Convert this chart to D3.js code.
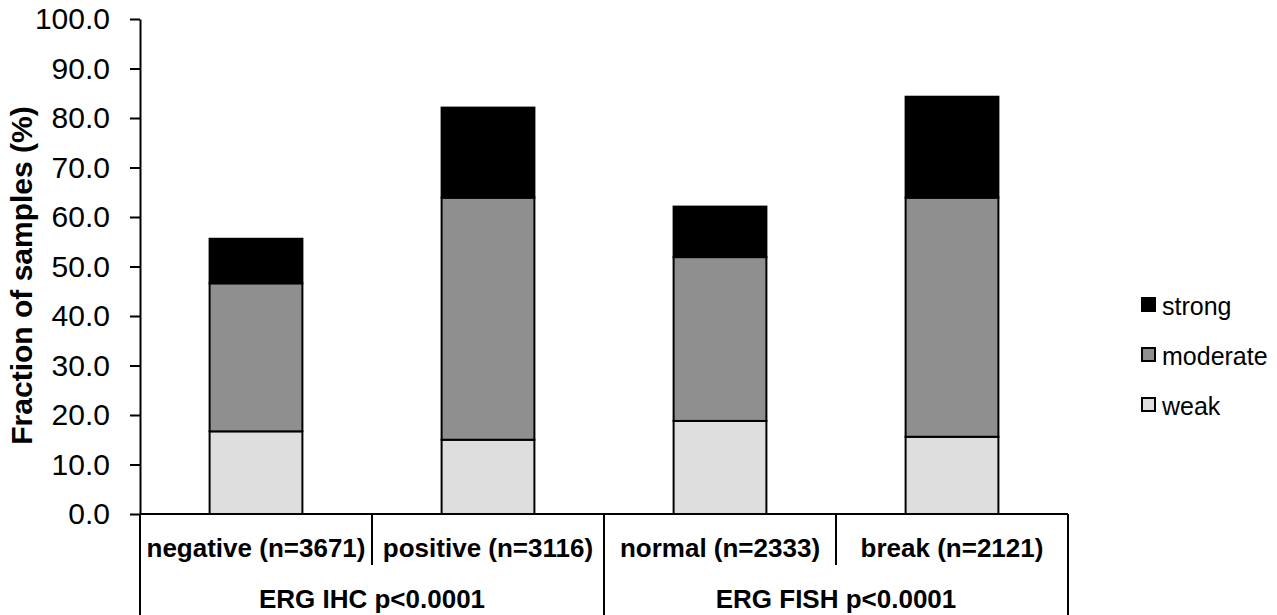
<!DOCTYPE html>
<html>
<head>
<meta charset="utf-8">
<script src="https://cdn.jsdelivr.net/npm/d3@7"></script>
<style>
  body { margin: 0; background: #fff; }
  svg { display: block; font-family: "Liberation Sans", Arial, sans-serif; }
</style>
</head>
<body>
<script>
const categories = ['negative (n=3671)', 'positive (n=3116)', 'normal (n=2333)', 'break (n=2121)'];
const groups = ['ERG IHC p<0.0001', 'ERG FISH p<0.0001'];
const keys = ['weak', 'moderate', 'strong'];
const weak = [16.7, 15.0, 18.8, 15.6];
const moderate = [29.9, 48.9, 33.1, 48.3];
const strong = [9.0, 18.2, 10.2, 20.4];
const yTicks = [0, 10, 20, 30, 40, 50, 60, 70, 80, 90, 100];

const width = 1277, height = 615;
const plotLeft = 140, plotRight = 1068, plotTop = 19, plotBottom = 514;

const colors = { weak: '#dedede', moderate: '#8f8f8f', strong: '#000000' };

const rows = categories.map((c, i) => ({ cat: c, weak: weak[i], moderate: moderate[i], strong: strong[i] }));

const svg = d3.select('body').append('svg')
  .attr('width', width)
  .attr('height', height);

const x = d3.scaleBand().domain(categories).range([plotLeft, plotRight]).padding(0);
const y = d3.scaleLinear().domain([0, 100]).range([plotBottom, plotTop]);
const barW = x.bandwidth() * 0.4;

// y axis
const yAxis = svg.append('g')
  .attr('transform', `translate(${plotLeft},0)`)
  .call(d3.axisLeft(y).tickValues(yTicks).tickFormat(d3.format('.1f')).tickSize(10).tickSizeOuter(0).tickPadding(20));
yAxis.selectAll('path, line').attr('stroke', '#000').attr('stroke-width', 2);
yAxis.selectAll('text').attr('font-size', 30).attr('fill', '#000').attr('font-family', '"Liberation Sans", Arial, sans-serif');

svg.append('text')
  .attr('transform', `translate(32,${(plotTop + plotBottom) / 2 + 9}) rotate(-90)`)
  .attr('text-anchor', 'middle')
  .attr('font-size', 30)
  .attr('font-weight', 'bold')
  .text('Fraction of samples (%)');

// stacked bars
const series = d3.stack().keys(keys)(rows);
svg.append('g')
  .selectAll('g')
  .data(series)
  .join('g')
  .attr('fill', d => colors[d.key])
  .selectAll('rect')
  .data(d => d)
  .join('rect')
  .attr('x', d => x(d.data.cat) + (x.bandwidth() - barW) / 2)
  .attr('y', d => y(d[1]))
  .attr('width', barW)
  .attr('height', d => y(d[0]) - y(d[1]))
  .attr('stroke', '#000')
  .attr('stroke-width', 2);

// category axis
const axisG = svg.append('g');
axisG.append('line')
  .attr('x1', plotLeft).attr('x2', plotRight)
  .attr('y1', plotBottom).attr('y2', plotBottom)
  .attr('stroke', '#000').attr('stroke-width', 2);

const seps = categories.map(c => x(c)).concat([plotRight]);
axisG.selectAll('.sep')
  .data(seps)
  .join('line')
  .attr('class', 'sep')
  .attr('x1', d => d).attr('x2', d => d)
  .attr('y1', plotBottom)
  .attr('y2', (d, i) => i % 2 === 0 ? height : 565)
  .attr('stroke', '#000').attr('stroke-width', 2);

axisG.selectAll('.cat')
  .data(categories)
  .join('text')
  .attr('class', 'cat')
  .attr('x', d => x(d) + x.bandwidth() / 2)
  .attr('y', 557)
  .attr('text-anchor', 'middle')
  .attr('font-size', 26)
  .attr('font-weight', 'bold')
  .text(d => d);

axisG.selectAll('.grp')
  .data(groups)
  .join('text')
  .attr('class', 'grp')
  .attr('x', (d, i) => x(categories[i * 2]) + x.bandwidth())
  .attr('y', 608)
  .attr('text-anchor', 'middle')
  .attr('font-size', 26)
  .attr('font-weight', 'bold')
  .text(d => d);

// legend
const legend = svg.append('g')
  .selectAll('g')
  .data(keys.slice().reverse())
  .join('g')
  .attr('transform', (d, i) => `translate(1142,${298 + i * 50})`);
legend.append('rect')
  .attr('width', 13).attr('height', 13)
  .attr('fill', d => colors[d])
  .attr('stroke', '#000').attr('stroke-width', 2);
legend.append('text')
  .attr('x', 20)
  .attr('y', 17)
  .attr('font-size', 25)
  .text(d => d);
</script>
</body>
</html>
